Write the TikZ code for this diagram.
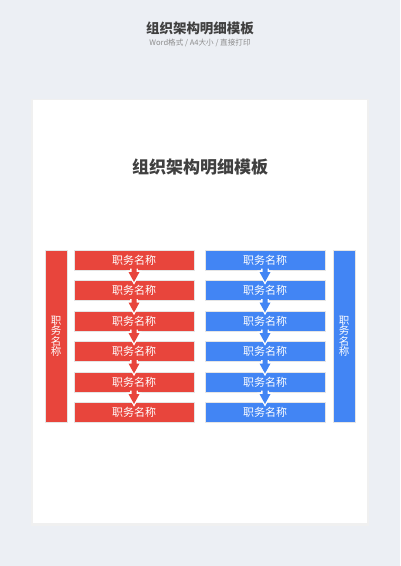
\documentclass[tikz,border=0pt]{standalone}
\usepackage{fontspec}
\setmainfont{Noto Sans CJK SC}
\usepackage{xcolor}
\usetikzlibrary{calc}

\definecolor{pagebg}{HTML}{ECEFF4}
\definecolor{postred}{HTML}{E8453C}
\definecolor{postblue}{HTML}{4285F4}
\definecolor{titlegray}{HTML}{404040}
\definecolor{subgray}{HTML}{8C8C8C}

\begin{document}
\begin{tikzpicture}[x=1pt,y=-1pt,
	post/.style={minimum width=120pt,minimum height=20pt,inner sep=0pt,outer sep=0pt,
		draw=black!10,line width=0.6pt,text=white,font=\fontsize{11}{11}\selectfont},
	redpost/.style={post,fill=postred},
	bluepost/.style={post,fill=postblue},
	sidepost/.style={post,minimum width=22pt,minimum height=172.5pt,align=center,
		font=\fontsize{10.5}{10.6}\selectfont}]
	\useasboundingbox (0,0) rectangle (400,566);
	\fill[pagebg] (0,0) rectangle (400,566);
	\fill[black!6] (31,99) rectangle (369,525.5);
	\fill[white] (33,100) rectangle (367,523);
	%
	\node[font=\fontsize{13.5}{13.5}\selectfont\bfseries,text=titlegray] (T) at (200,28) {组织架构明细模板};
	\node[font=\fontsize{7.6}{7.6}\selectfont,text=subgray] (S) at (200,42.5) {Word格式 / A4大小 / 直接打印};
	\node[font=\fontsize{17}{17}\selectfont\bfseries,text=titlegray] (C) at (200,167) {组织架构明细模板};
	%
	\node[sidepost,fill=postred] (LV) at (56,336.25) {职\\务\\名\\称};
	\node[sidepost,fill=postblue] (RV) at (344,336.25) {职\\务\\名\\称};
	%
	\node[redpost] (L1) at (134,260) {职务名称};
	\node[redpost] (L2) at (134,290.5) {职务名称};
	\node[redpost] (L3) at (134,321) {职务名称};
	\node[redpost] (L4) at (134,351.5) {职务名称};
	\node[redpost] (L5) at (134,382) {职务名称};
	\node[redpost] (L6) at (134,412.5) {职务名称};
	%
	\node[bluepost] (R1) at (265,260) {职务名称};
	\node[bluepost] (R2) at (265,290.5) {职务名称};
	\node[bluepost] (R3) at (265,321) {职务名称};
	\node[bluepost] (R4) at (265,351.5) {职务名称};
	\node[bluepost] (R5) at (265,382) {职务名称};
	\node[bluepost] (R6) at (265,412.5) {职务名称};
	%
	\foreach \a/\b/\c in {L1/L2/postred,L2/L3/postred,L3/L4/postred,L4/L5/postred,L5/L6/postred,
		R1/R2/postblue,R2/R3/postblue,R3/R4/postblue,R4/R5/postblue,R5/R6/postblue}{
		\filldraw[white,line width=2.6pt,line join=miter]
		($(\a.south)+(-2.5,0)$) -- ($(\a.south)+(2.5,0)$) -- ($(\b.north)+(2.5,-8.5)$)
		-- ($(\b.north)+(5.5,-8.5)$) -- ($(\b.north)+(0,1.5)$) -- ($(\b.north)+(-5.5,-8.5)$)
		-- ($(\b.north)+(-2.5,-8.5)$) -- cycle;
		\fill[\c]
		($(\a.south)+(-2.5,-4)$) -- ($(\a.south)+(2.5,-4)$) -- ($(\b.north)+(2.5,-8.5)$)
		-- ($(\b.north)+(5.5,-8.5)$) -- ($(\b.north)+(0,1.5)$) -- ($(\b.north)+(-5.5,-8.5)$)
		-- ($(\b.north)+(-2.5,-8.5)$) -- cycle;
	}
\end{tikzpicture}
\end{document}
